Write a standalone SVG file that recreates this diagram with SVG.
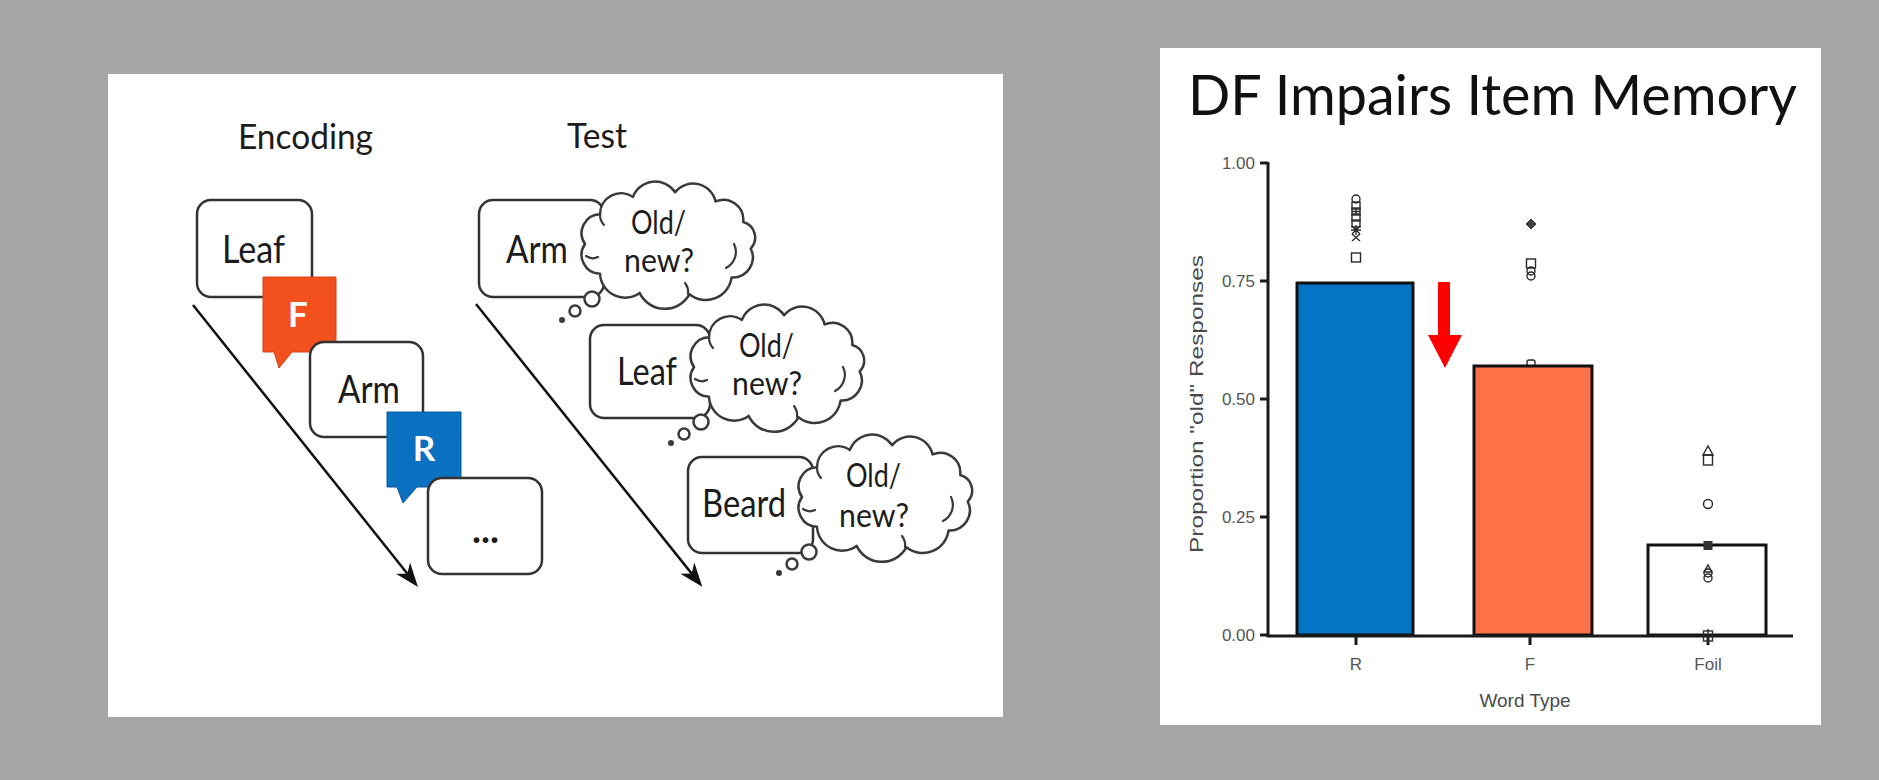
<svg xmlns="http://www.w3.org/2000/svg" xmlns:xlink="http://www.w3.org/1999/xlink" width="1879" height="780" viewBox="0 0 1879 780">
  <style>
    .box{fill:#fff;stroke:#333;stroke-width:2.5}
    .word{font-family:Lato,"Open Sans",sans-serif;font-size:38px;fill:#1c1c1c}
    .head{font-family:Lato,"Open Sans",sans-serif;font-size:34px;fill:#1c1c1c}
    .cloud{fill:#fff;stroke:#3a3a3a;stroke-width:2.5;stroke-linejoin:round}
    .curl{fill:none;stroke:#3a3a3a;stroke-width:2.2;stroke-linecap:round}
    .cw{font-family:Lato,"Open Sans",sans-serif;font-size:32px;fill:#1c1c1c}
    .tag{font-family:Lato,"Open Sans",sans-serif;font-size:35px;font-weight:bold;fill:#fff;text-anchor:middle}
    .flow{stroke:#111;stroke-width:2.5;fill:none}
    .ax{stroke:#1a1a1a;stroke-width:3;fill:none}
    .tk{font-family:"Liberation Sans",Arial,sans-serif;font-size:17px;fill:#555}
    .lab{font-family:"Liberation Sans",Arial,sans-serif;font-size:19px;fill:#4a4a4a}
    .pt{fill:none;stroke:#2a2a2a;stroke-width:1.4}
    .bar{stroke:#111;stroke-width:3}
  </style>
  <defs>
    <marker id="head" markerUnits="userSpaceOnUse" viewBox="-18 -10 28 20" markerWidth="28" markerHeight="20" refX="0" refY="0" orient="auto">
      <path d="M8,0 L-16,-9 L-9,0 L-16,9 Z" fill="#111"/>
    </marker>
    <!-- thought cloud outline, local 0..180 x 0..128 -->
    <path id="cloudShape" d="M9,64 A19,19 0 0 1 24,34.2 A21,21 0 0 1 56.9,16.9 A24,24 0 0 1 99.2,12.2 A23,23 0 0 1 139.6,21.4 A20,20 0 0 1 167.2,42 A16,16 0 0 1 174.7,68.5 A20,20 0 0 1 155.6,97.4 A26,26 0 0 1 113.5,114.2 A28,28 0 0 1 63.6,112.9 A25,25 0 0 1 24,93.8 A19,19 0 0 1 9,64 Z"/>
    <g id="cloud">
      <use xlink:href="#cloudShape" class="cloud"/>
      <path class="curl" d="M150,88 A18,18 0 0 0 158,64"/>
      <path class="curl" d="M10,76 Q16,80 22,77"/>
      <path class="curl" d="M24,34 A15,15 0 0 0 28,45"/>
      <path class="curl" d="M112,114 A15,15 0 0 0 109,103"/>
      <circle cx="16" cy="119" r="7.5" class="cloud"/>
      <circle cx="-1" cy="131" r="5.5" class="cloud"/>
      <circle cx="-14" cy="140" r="3" fill="#3a3a3a"/>
    </g>
  </defs>

  <!-- slide background -->
  <rect x="0" y="0" width="1879" height="780" fill="#a6a6a6"/>
  <rect x="108" y="74" width="895" height="643" fill="#fff"/>
  <rect x="1160" y="48" width="661" height="677" fill="#fff"/>

  <!-- procedure: encoding and test sequences -->
  <g id="connectors">
    <line class="flow" x1="193" y1="305" x2="413" y2="580.7" marker-end="url(#head)"/>
    <line class="flow" x1="476" y1="304" x2="697.3" y2="580.6" marker-end="url(#head)"/>
  </g>

  <text class="head" x="238" y="149" textLength="135" lengthAdjust="spacingAndGlyphs">Encoding</text>
  <text class="head" x="567" y="148" textLength="60" lengthAdjust="spacingAndGlyphs">Test</text>

  <g id="enc-leaf">
    <rect class="box" x="197" y="200" width="115" height="97" rx="14"/>
    <text class="word" x="222" y="263" textLength="63" lengthAdjust="spacingAndGlyphs">Leaf</text>
  </g>
  <g id="cue-f">
    <path d="M263,277 H336 V352 H292 L279,368 L274,352 H263 Z" fill="#f2511d" stroke="#d4431a" stroke-width="1"/>
    <text class="tag" x="298" y="327">F</text>
  </g>
  <g id="enc-arm">
    <rect class="box" x="310" y="342" width="113" height="95" rx="14"/>
    <text class="word" x="338" y="403" textLength="62" lengthAdjust="spacingAndGlyphs">Arm</text>
  </g>
  <g id="cue-r">
    <path d="M387,412 H461 V487 H417 L403,503 L397,487 H387 Z" fill="#0a70c0" stroke="#07599b" stroke-width="1"/>
    <text class="tag" x="424" y="461">R</text>
  </g>
  <g id="enc-more">
    <rect class="box" x="428" y="478" width="114" height="96" rx="14"/>
    <text class="word" x="472" y="543" font-size="30" font-weight="bold" textLength="27" lengthAdjust="spacingAndGlyphs">...</text>
  </g>

  <g id="test-arm">
    <rect class="box" x="479" y="200" width="125" height="97" rx="14"/>
    <text class="word" x="506" y="263" textLength="62" lengthAdjust="spacingAndGlyphs">Arm</text>
  </g>
  <g id="thought-1" transform="translate(576,180)">
    <use xlink:href="#cloud"/>
    <text class="cw" x="55" y="54" textLength="55" lengthAdjust="spacingAndGlyphs">Old/</text>
    <text class="cw" x="48" y="92" textLength="70" lengthAdjust="spacingAndGlyphs">new?</text>
  </g>

  <g id="test-leaf">
    <rect class="box" x="590" y="325" width="120" height="93" rx="14"/>
    <text class="word" x="617" y="385" textLength="60" lengthAdjust="spacingAndGlyphs">Leaf</text>
  </g>
  <g id="thought-2" transform="translate(685,303)">
    <use xlink:href="#cloud"/>
    <text class="cw" x="54" y="54" textLength="55" lengthAdjust="spacingAndGlyphs">Old/</text>
    <text class="cw" x="47" y="92" textLength="70" lengthAdjust="spacingAndGlyphs">new?</text>
  </g>

  <g id="test-beard">
    <rect class="box" x="688" y="457" width="125" height="96" rx="14"/>
    <text class="word" x="702" y="517" textLength="84" lengthAdjust="spacingAndGlyphs">Beard</text>
  </g>
  <g id="thought-3" transform="translate(793,433)">
    <use xlink:href="#cloud"/>
    <text class="cw" x="53" y="54" textLength="55" lengthAdjust="spacingAndGlyphs">Old/</text>
    <text class="cw" x="46" y="94" textLength="70" lengthAdjust="spacingAndGlyphs">new?</text>
  </g>

  <!-- results chart -->
  <g id="chart">
    <text x="1188" y="115" font-family="Lato,'Open Sans',sans-serif" font-size="56" fill="#111" textLength="609" lengthAdjust="spacingAndGlyphs">DF Impairs Item Memory</text>

    <!-- marker hidden under the F bar top -->
    <rect class="pt" x="1527" y="360" width="8" height="8" rx="2"/>

    <rect class="bar" x="1297" y="283" width="116" height="352" fill="#0474c4"/>
    <rect class="bar" x="1474" y="366" width="118" height="269" fill="#fd7149"/>
    <rect class="bar" x="1648" y="545" width="118" height="90" fill="#fff"/>

    <path class="ax" d="M1268,162 V636 H1793"/>
    <path class="ax" stroke-width="2" d="M1260,163 H1268 M1260,281 H1268 M1260,399 H1268 M1260,517 H1268 M1260,635 H1268 M1356,636 V645 M1530,636 V645 M1708,636 V645"/>

    <g class="tk" text-anchor="end">
      <text x="1255" y="169">1.00</text>
      <text x="1255" y="287">0.75</text>
      <text x="1255" y="405">0.50</text>
      <text x="1255" y="523">0.25</text>
      <text x="1255" y="641">0.00</text>
    </g>
    <g class="tk" text-anchor="middle" font-size="18">
      <text x="1356" y="670">R</text>
      <text x="1530" y="670">F</text>
      <text x="1708" y="670">Foil</text>
    </g>
    <text class="lab" x="1525" y="707" text-anchor="middle" font-size="20">Word Type</text>
    <text class="lab" transform="translate(1203,404) rotate(-90)" text-anchor="middle" textLength="298" lengthAdjust="spacingAndGlyphs">Proportion "old" Responses</text>

    <!-- individual data points: R -->
    <circle class="pt" cx="1356" cy="199" r="4"/>
    <rect class="pt" x="1352" y="202" width="8" height="7"/>
    <rect class="pt" x="1352" y="208" width="8" height="7"/>
    <path class="pt" d="M1352,211.5 H1360 M1356,208 V215"/>
    <rect class="pt" x="1352" y="214" width="8" height="7"/>
    <rect class="pt" x="1352" y="220" width="8" height="7"/>
    <path class="pt" d="M1352,226 L1360,234 M1360,226 L1352,234 M1356,225 V235 M1351,230 H1361"/>
    <path class="pt" d="M1352,234 L1360,241 M1360,234 L1352,241"/>
    <rect class="pt" x="1351.5" y="253" width="9" height="9"/>

    <!-- F -->
    <path d="M1531,219 L1536,224 L1531,229 L1526,224 Z" fill="#444" stroke="#333" stroke-width="1"/>
    <rect class="pt" x="1526.5" y="259" width="9" height="9"/>
    <circle class="pt" cx="1531" cy="271" r="4"/>
    <circle class="pt" cx="1531" cy="276" r="4"/>

    <!-- Foil -->
    <path class="pt" d="M1708,446 L1713,455 L1703,455 Z"/>
    <rect class="pt" x="1703.5" y="455" width="9" height="10"/>
    <circle class="pt" cx="1708" cy="504" r="4.5"/>
    <rect x="1703.5" y="541" width="9" height="9" fill="#333"/>
    <path class="pt" d="M1708,565 L1712,572 L1704,572 Z"/>
    <circle class="pt" cx="1708" cy="573" r="4"/>
    <circle class="pt" cx="1708" cy="578" r="4"/>
    <rect class="pt" x="1703.5" y="631" width="9" height="10"/>
    <path class="pt" d="M1708,629 V643"/>

    <!-- drop from R to F -->
    <path d="M1438,282 H1450 V335 H1462 L1445,368 L1428,335 H1438 Z" fill="#f00"/>
  </g>
</svg>
